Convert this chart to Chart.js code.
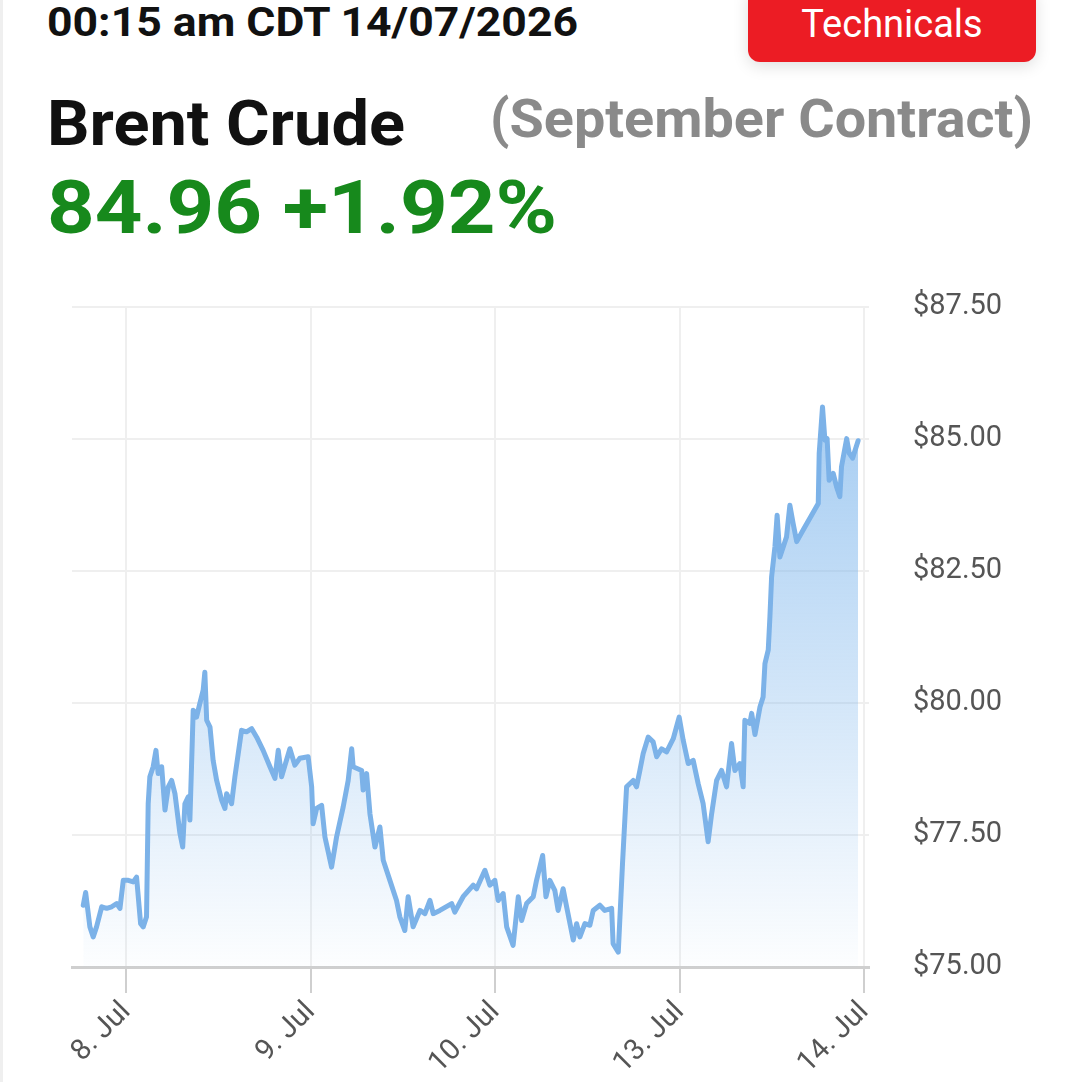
<!DOCTYPE html>
<html>
<head>
<meta charset="utf-8">
<script src="https://cdn.jsdelivr.net/npm/chart.js@4.4.1/dist/chart.umd.min.js"></script>
<style>
  html, body { margin:0; padding:0; background:#fff; }
  body { width:1080px; height:1082px; position:relative; overflow:hidden; font-family: Roboto, "Noto Sans", sans-serif; }
  .edge { position:absolute; left:0; top:0; width:3px; height:1082px; background:#efefef; }
  .txt { position:absolute; white-space:nowrap; transform-origin: 0 0; line-height:1; }
  #time { left:47px; top:3px; font-size:40px; font-weight:700; color:#111; }
  #btn { position:absolute; left:748px; top:-14px; width:288px; height:76px; background:#ec1c24; border-radius:12px; box-shadow:0 4px 16px rgba(0,0,0,0.13); }
  #btnText { left:0; width:288px; top:19px; text-align:center; font-size:38px; color:#fff; }
  #name { left:47px; top:92px; font-size:63px; font-weight:700; color:#111; }
  #contract { left:490px; top:92px; font-size:54px; font-weight:700; color:#8a8a8a; }
  #price { left:47px; top:170px; font-size:75px; font-weight:700; color:#17891c; }
  #wrap { position:absolute; left:0; top:280px; width:1080px; height:802px; }
</style>
</head>
<body>
<div class="edge"></div>
<div id="time" class="txt" data-w="531">00:15 am CDT 14/07/2026</div>
<div id="btn"><div id="btnText" class="txt">Technicals</div></div>
<div id="name" class="txt" data-w="358">Brent Crude</div>
<div id="contract" class="txt" data-w="543">(September Contract)</div>
<div id="price" class="txt" data-w="510">84.96 +1.92%</div>
<div id="wrap"><canvas id="c" width="1080" height="802"></canvas></div>
<script>
// Trading-day position (0 = 8 Jul, 1 = 9 Jul, 2 = 10 Jul, 3 = 13 Jul, 4 = 14 Jul)
const dayPos = [
 -0.234,-0.221,-0.198,-0.180,-0.162,-0.134,-0.107,-0.080,-0.053,-0.035,-0.017,
 0.010,0.037,0.055,0.077,0.091,0.109,0.118,0.127,0.145,0.160,0.172,0.191,0.209,0.227,0.245,0.263,
 0.290,0.305,0.317,0.335,0.344,0.362,0.380,0.398,0.416,0.425,0.435,0.453,0.470,0.489,0.516,0.534,
 0.543,0.570,0.588,0.606,0.624,0.651,0.679,0.706,0.741,0.778,0.805,0.823,0.841,0.886,0.913,0.940,0.985,
 1.004,1.012,1.031,1.058,1.076,1.112,1.139,1.175,1.202,1.221,1.229,1.275,1.283,1.302,1.320,1.347,
 1.374,1.392,1.428,1.464,1.482,1.509,1.527,1.554,1.591,1.618,1.645,1.663,1.699,1.763,1.780,1.825,
 1.880,1.898,1.943,1.970,1.997,
 2.015,2.042,2.061,2.096,2.124,2.142,2.169,2.205,2.223,2.256,2.274,2.295,2.322,2.340,2.367,2.386,
 2.422,2.440,2.458,2.485,2.512,2.530,2.566,2.593,2.630,2.638,2.666,2.689,2.711,2.747,2.765,2.783,
 2.801,2.828,2.855,2.874,2.901,2.928,2.964,2.996,
 3.018,3.045,3.072,3.099,3.126,3.153,3.172,3.199,3.226,3.253,3.280,3.298,3.325,3.343,3.352,3.379,
 3.389,3.407,3.434,3.451,3.461,3.479,3.488,3.497,3.515,3.527,3.542,3.560,3.578,3.596,3.614,3.633,
 3.668,3.750,3.755,3.773,3.786,3.798,3.809,3.831,3.849,3.867,3.876,3.904,3.918,3.936,3.966
];
const prices = [
 76.17,76.41,75.76,75.57,75.76,76.14,76.11,76.14,76.20,76.11,76.64,
 76.64,76.61,76.70,75.82,75.76,75.95,78.09,78.60,78.79,79.10,78.66,78.79,77.97,78.41,78.53,78.28,
 77.53,77.27,78.09,78.22,77.78,79.86,79.73,79.99,80.24,80.58,79.67,79.54,78.91,78.53,78.16,78.00,
 78.28,78.09,78.60,79.04,79.48,79.45,79.51,79.35,79.10,78.79,78.57,79.10,78.60,79.13,78.82,78.95,78.98,
 78.41,77.71,78.00,78.06,77.46,76.89,77.46,78.03,78.53,79.13,78.79,78.72,78.35,78.66,77.90,77.27,
 77.65,77.02,76.64,76.26,75.95,75.69,76.33,75.76,76.07,76.01,76.26,76.01,76.07,76.20,76.04,76.33,
 76.55,76.48,76.83,76.55,76.64,
 76.26,76.39,75.76,75.41,76.33,75.88,76.20,76.33,76.64,77.11,76.33,76.64,76.45,76.07,76.48,76.14,
 75.51,75.82,75.57,75.82,75.79,76.07,76.17,76.07,76.11,75.44,75.28,76.96,78.41,78.53,78.41,78.72,
 79.04,79.35,79.26,78.98,79.13,79.07,79.32,79.73,
 79.29,78.85,78.91,78.47,78.09,77.37,77.90,78.53,78.72,78.41,79.23,78.72,78.85,78.41,79.67,79.61,
 79.80,79.40,79.92,80.11,80.74,81.00,81.63,82.38,82.95,83.55,82.76,82.95,83.14,83.74,83.39,83.05,
 83.27,83.77,84.72,85.60,84.97,85.00,84.21,84.34,84.09,83.90,84.47,85.00,84.72,84.63,84.96
];
const dayTicks  = [0, 1, 2, 3, 4];
const dayLabels = ['8. Jul', '9. Jul', '10. Jul', '13. Jul', '14. Jul'];
const priceMin = 75, priceMax = 87.5, priceStep = 2.5;

// fit header text widths
document.querySelectorAll('.txt[data-w]').forEach(el => {
  const w = el.getBoundingClientRect().width;
  const target = +el.dataset.w;
  if (w > 0) el.style.transform = 'scaleX(' + (target / w) + ')';
});

const points = dayPos.map((d, i) => ({ x: d, y: prices[i] }));

new Chart(document.getElementById('c'), {
  type: 'line',
  data: {
    datasets: [{
      data: points,
      borderColor: '#7cb2e8',
      borderWidth: 5,
      borderJoinStyle: 'round',
      borderCapStyle: 'round',
      pointRadius: 0,
      tension: 0,
      fill: 'start',
      backgroundColor: (ctx) => {
        const ca = ctx.chart.chartArea;
        if (!ca) return 'rgba(124,181,236,0.3)';
        const g = ctx.chart.ctx.createLinearGradient(0, ca.top, 0, ca.bottom);
        g.addColorStop(0, 'rgba(124,181,236,0.8)');
        g.addColorStop(1, 'rgba(124,181,236,0.02)');
        return g;
      }
    }]
  },
  options: {
    responsive: false,
    animation: false,
    events: [],
    layout: { padding: { left: 72, top: 26.5, right: 0, bottom: 0 } },
    plugins: { legend: { display: false }, tooltip: { enabled: false } },
    scales: {
      x: {
        type: 'linear',
        min: -0.295,
        max: 4.025,
        afterBuildTicks: (s) => { s.ticks = dayTicks.map(v => ({ value: v })); },
        afterFit: (s) => { s.height = 115; },
        ticks: {
          autoSkip: false,
          minRotation: 45,
          maxRotation: 45,
          padding: 2,
          color: '#555',
          font: { family: 'Roboto', size: 29 },
          callback: (v) => { const i = dayTicks.indexOf(v); return i >= 0 ? dayLabels[i] : ''; }
        },
        grid: { color: '#efefef', lineWidth: 2, tickColor: '#cfcfcf', tickLength: 26, drawTicks: true },
        border: { display: true, color: '#cfcfcf', width: 3 }
      },
      y: {
        position: 'right',
        min: priceMin,
        max: priceMax,
        afterFit: (s) => { s.width = 211; },
        ticks: {
          stepSize: priceStep,
          padding: 2,
          color: '#555',
          font: { family: 'Roboto', size: 29 },
          callback: (v) => '$' + Number(v).toFixed(2)
        },
        grid: { color: '#efefef', lineWidth: 2, drawTicks: true, tickLength: 42, tickColor: 'rgba(0,0,0,0)' },
        border: { display: false }
      }
    }
  }
});
</script>
</body>
</html>
